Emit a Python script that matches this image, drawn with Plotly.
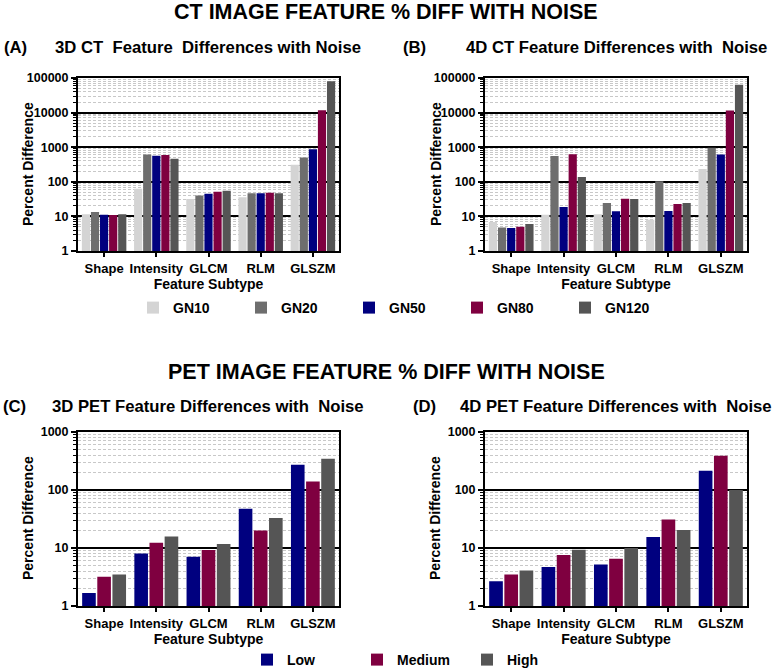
import plotly.graph_objects as go
from plotly.subplots import make_subplots

categories = ["Shape", "Intensity", "GLCM", "RLM", "GLSZM"]

# 3D CT (panel A)
ct3d_gn10 = [11.5, 63, 32, 36, 310]
ct3d_gn20 = [13.4, 620, 40, 47, 500]
ct3d_gn50 = [11.2, 570, 45, 47, 870]
ct3d_gn80 = [11.0, 600, 52, 48, 11700]
ct3d_gn120 = [11.5, 465, 55, 47, 80000]

# 4D CT (panel B)
ct4d_gn10 = [6.9, 11.2, 11.5, 8.0, 235]
ct4d_gn20 = [4.8, 560, 24.5, 103, 970]
ct4d_gn50 = [4.6, 18.7, 14, 14.3, 620]
ct4d_gn80 = [5.0, 630, 32.5, 22.8, 11500]
ct4d_gn120 = [6.0, 137, 32, 24.5, 64000]

# 3D PET (panel C)
pet3d_low = [1.68, 8.05, 7.05, 47.6, 272]
pet3d_medium = [3.2, 12.3, 9.2, 20.1, 140]
pet3d_high = [3.5, 15.8, 11.7, 33, 346]

# 4D PET (panel D)
pet4d_low = [2.67, 4.7, 5.2, 15.4, 214]
pet4d_medium = [3.5, 7.6, 6.5, 31, 390]
pet4d_high = [4.1, 9.3, 10, 20.4, 100]

ct_names = ["GN10", "GN20", "GN50", "GN80", "GN120"]
pet_names = ["Low", "Medium", "High"]
ct_tickvals = [1, 10, 100, 1000, 10000, 100000]
ct_ticktext = ["1", "10", "100", "1000", "10000", "100000"]
pet_tickvals = [1, 10, 100, 1000]
pet_ticktext = ["1", "10", "100", "1000"]

ct_colors = ["#d4d4d4", "#6e6e6e", "#00007f", "#7f0040", "#555555"]
pet_colors = ["#00007f", "#7f0040", "#555555"]

FONT = "Liberation Sans, Arial, sans-serif"
W, H = 773, 668


def X(px):
    return px / W


def Y(py):
    return 1 - py / H


fig = make_subplots(rows=2, cols=2)

ct3d = [ct3d_gn10, ct3d_gn20, ct3d_gn50, ct3d_gn80, ct3d_gn120]
ct4d = [ct4d_gn10, ct4d_gn20, ct4d_gn50, ct4d_gn80, ct4d_gn120]
pet3d = [pet3d_low, pet3d_medium, pet3d_high]
pet4d = [pet4d_low, pet4d_medium, pet4d_high]

for i, name in enumerate(ct_names):
    fig.add_trace(go.Bar(x=categories, y=ct3d[i], name=name, marker_color=ct_colors[i],
                         marker_line_width=0, legend="legend", legendgroup=name,
                         showlegend=True), row=1, col=1)
    fig.add_trace(go.Bar(x=categories, y=ct4d[i], name=name, marker_color=ct_colors[i],
                         marker_line_width=0, legend="legend", legendgroup=name,
                         showlegend=False), row=1, col=2)
for i, name in enumerate(pet_names):
    fig.add_trace(go.Bar(x=categories, y=pet3d[i], name=name, marker_color=pet_colors[i],
                         marker_line_width=0, legend="legend2", legendgroup=name,
                         showlegend=True), row=2, col=1)
    fig.add_trace(go.Bar(x=categories, y=pet4d[i], name=name, marker_color=pet_colors[i],
                         marker_line_width=0, legend="legend2", legendgroup=name,
                         showlegend=False), row=2, col=2)

panels = {
    "xaxis": [X(78), X(339)], "xaxis2": [X(485), X(747)],
    "xaxis3": [X(78), X(339)], "xaxis4": [X(485), X(747)],
    "yaxis": [Y(251), Y(78)], "yaxis2": [Y(251), Y(78)],
    "yaxis3": [Y(606), Y(432)], "yaxis4": [Y(606), Y(432)],
}

tickfont = dict(family=FONT, size=13, color="black", weight="bold")
titlefont = dict(family=FONT, size=14, color="black", weight="bold")

for k in ["xaxis", "xaxis2", "xaxis3", "xaxis4"]:
    fig.layout[k].update(
        domain=panels[k], automargin=False, showline=True, mirror=True,
        linecolor="black", linewidth=2,
        ticks="outside", ticklen=4, tickwidth=1.5, tickcolor="black",
        tickfont=tickfont, showgrid=False,
        title=dict(text="Feature Subtype", font=titlefont, standoff=4),
    )

for k in ["yaxis", "yaxis2", "yaxis3", "yaxis4"]:
    is_ct = k in ("yaxis", "yaxis2")
    fig.layout[k].update(
        domain=panels[k], automargin=False, type="log",
        range=[0, 5] if is_ct else [0, 3],
        tickvals=ct_tickvals if is_ct else pet_tickvals,
        ticktext=ct_ticktext if is_ct else pet_ticktext,
        showline=True, mirror=True, linecolor="black", linewidth=2,
        ticks="outside", ticklen=5, tickwidth=1.5, tickcolor="black",
        tickfont=dict(family=FONT, size=12.5, color="black", weight="bold"),
        showgrid=True, gridcolor="black", gridwidth=1.8,
        zeroline=False,
        minor=dict(dtick="D1", showgrid=True, gridcolor="#c8c8c8", griddash="3px,2px",
                   gridwidth=1, ticks="outside", ticklen=3, tickcolor="black", tickwidth=1),
    )

sub = dict(family=FONT, size=16.7, color="black")
annotations = [
    dict(text="<b>CT IMAGE FEATURE % DIFF WITH NOISE</b>", x=X(386), y=Y(12),
         font=dict(family=FONT, size=21.5, color="black"), xanchor="center"),
    dict(text="<b>PET IMAGE FEATURE % DIFF WITH NOISE</b>", x=X(386), y=Y(372),
         font=dict(family=FONT, size=21.5, color="black"), xanchor="center"),
    dict(text="<b>(A)</b>", x=X(2), y=Y(47), font=sub, xanchor="left"),
    dict(text="<b>3D CT\u00a0 Feature\u00a0 Differences with Noise</b>", x=X(53), y=Y(47),
         font=sub, xanchor="left"),
    dict(text="<b>(B)</b>", x=X(401), y=Y(47), font=sub, xanchor="left"),
    dict(text="<b>4D CT Feature Differences with\u00a0 Noise</b>", x=X(464), y=Y(47),
         font=sub, xanchor="left"),
    dict(text="<b>(C)</b>", x=X(1), y=Y(406), font=sub, xanchor="left"),
    dict(text="<b>3D PET Feature Differences with\u00a0 Noise</b>", x=X(50), y=Y(406),
         font=sub, xanchor="left"),
    dict(text="<b>(D)</b>", x=X(411), y=Y(406), font=sub, xanchor="left"),
    dict(text="<b>4D PET Feature Differences with\u00a0 Noise</b>", x=X(458), y=Y(406),
         font=sub, xanchor="left"),
    dict(text="<b>Percent Difference</b>", x=X(28), y=Y(164), textangle=-90,
         font=dict(family=FONT, size=14, color="black"), xanchor="center"),
    dict(text="<b>Percent Difference</b>", x=X(436), y=Y(164), textangle=-90,
         font=dict(family=FONT, size=14, color="black"), xanchor="center"),
    dict(text="<b>Percent Difference</b>", x=X(28), y=Y(518), textangle=-90,
         font=dict(family=FONT, size=14, color="black"), xanchor="center"),
    dict(text="<b>Percent Difference</b>", x=X(435), y=Y(518), textangle=-90,
         font=dict(family=FONT, size=14, color="black"), xanchor="center"),
]
for a in annotations:
    a.update(xref="paper", yref="paper", showarrow=False, yanchor="middle")

fig.update_layout(
    template="none",
    width=W, height=H, margin=dict(l=0, r=0, t=0, b=0, autoexpand=False),
    paper_bgcolor="white", plot_bgcolor="white",
    font=dict(family=FONT, color="black"),
    annotations=annotations,
    legend=dict(orientation="h", x=X(133), y=Y(308), xanchor="left", yanchor="middle",
                entrywidth=63, entrywidthmode="pixels", borderwidth=0,
                font=dict(family=FONT, size=14, color="black", weight="bold")),
    legend2=dict(orientation="h", x=X(247), y=Y(660), xanchor="left", yanchor="middle",
                 entrywidth=65, entrywidthmode="pixels", borderwidth=0,
                 font=dict(family=FONT, size=14, color="black", weight="bold")),
)
fig.update_layout(barmode="group", bargap=0.13, bargroupgap=0.1)

# remove the default page margin so the 773x668 figure fills the window exactly
fig.write_html("out.html", config={"displayModeBar": False},
               post_script="document.body.style.margin='0';document.body.style.overflow='hidden';")
